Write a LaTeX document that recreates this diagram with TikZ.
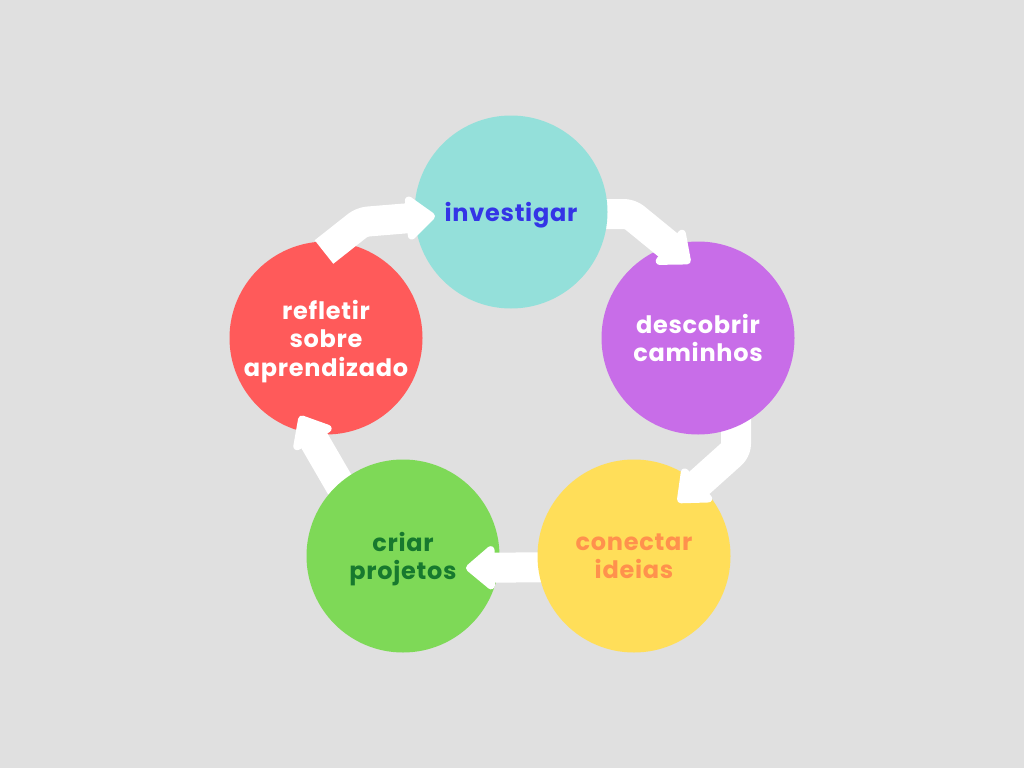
\documentclass[tikz,border=0pt]{standalone}
\usepackage{fontspec}
\setmainfont{Poppins}[LetterSpace=3]
\usetikzlibrary{arrows.meta}
\definecolor{bgc}{HTML}{E0E0E0}
\definecolor{tealc}{HTML}{94E0DA}
\definecolor{purplec}{HTML}{C86DE8}
\definecolor{yellowc}{HTML}{FFDE59}
\definecolor{greenc}{HTML}{7ED957}
\definecolor{redc}{HTML}{FF5A5A}
\definecolor{bluec}{HTML}{3434E6}
\definecolor{orangec}{HTML}{FF914D}
\definecolor{darkgreenc}{HTML}{17792E}
\begin{document}
\begin{tikzpicture}[x=1pt,y=-1pt,
    stage/.style={circle,minimum size=193pt,inner sep=0pt,align=center,text depth=0pt,
        font=\fontsize{24}{28.5}\selectfont\bfseries},
    flow/.style={draw=white,line width=30pt,line join=round,rounded corners=6pt,
        -{Triangle[width=50pt,length=31pt,round]}}]
    \fill[bgc] (0,0) rectangle (1024,768);

    % centres of the five stages
    \coordinate (pinv) at (511,212);
    \coordinate (pdsc) at (698,338);
    \coordinate (pcon) at (634,556);
    \coordinate (pcrp) at (403,556);
    \coordinate (pref) at (326,338);

    \node[stage,fill=redc,text=white] (ref) at (pref) {refletir\\sobre\\aprendizado};
    \coordinate (s5) at ([shift={(-45,-40)}]pcrp);
    \draw[flow] (s5) -- ([shift={(-26,78)}]ref.center);

    \node[stage,fill=greenc,text=darkgreenc] (crp) at (pcrp) {criar\\projetos};
    \coordinate (s4) at ([shift={(-70,11)}]pcon);
    \draw[flow] (s4) -- ([shift={(63,12)}]crp.center);

    \node[stage,fill=yellowc,text=orangec] (con) at (pcon) {conectar\\ideias};
    \coordinate (s3) at ([shift={(38,70)}]pdsc);
    \coordinate (b3) at ([shift={(38,112)}]pdsc);
    \draw[flow] (s3) -- (b3) -- ([shift={(44,-54)}]con.center);

    \node[stage,fill=purplec,text=white] (dsc) at (pdsc) {descobrir\\caminhos};
    \coordinate (s2) at ([shift={(80,2)}]pinv);
    \coordinate (b2) at ([shift={(119,2)}]pinv);
    \draw[flow] (s2) -- (b2) -- ([shift={(-8,-75)}]dsc.center);

    \node[stage,fill=tealc,text=bluec] (inv) at (pinv) {investigar};
    \coordinate (b1) at (362,222);
    \draw[flow] ([shift={(-2,-86)}]ref.center) -- (b1) -- ([shift={(-76,4)}]inv.center);
\end{tikzpicture}
\end{document}
